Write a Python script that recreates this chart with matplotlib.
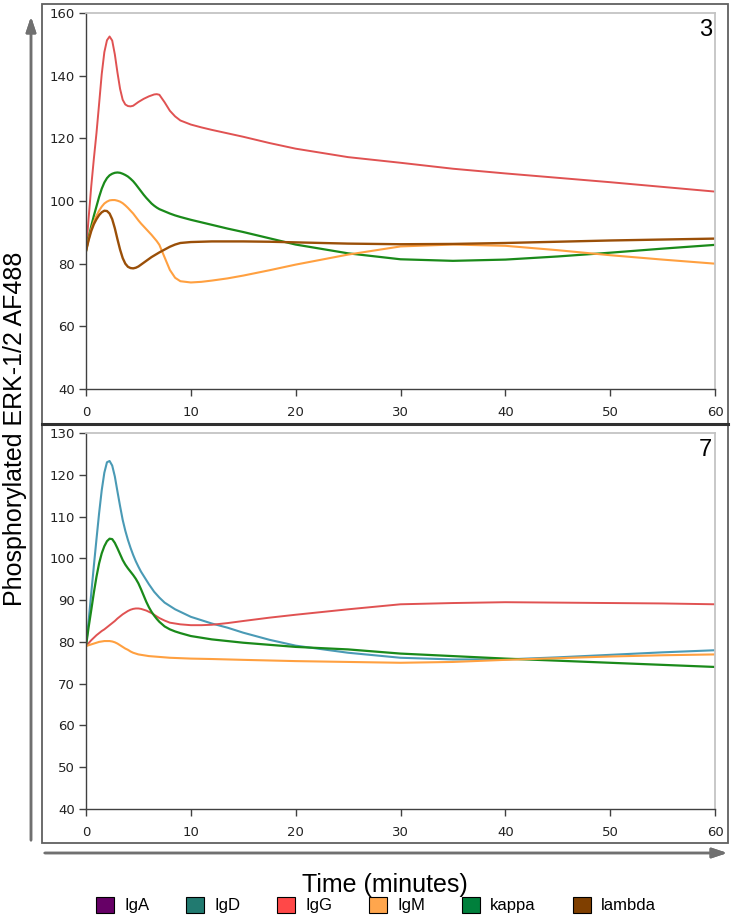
import matplotlib
matplotlib.use("Agg")
import matplotlib.pyplot as plt
from matplotlib.patches import Patch, Rectangle
from matplotlib.lines import Line2D

# sample times (minutes), dense at the start where the curves bend
times = [0, 0.25, 0.5, 0.75, 1, 1.25, 1.5, 1.75, 2, 2.25, 2.5, 2.75, 3, 3.25, 3.5, 3.75,
         4, 4.25, 4.5, 4.75, 5, 5.25, 5.5, 5.75, 6, 6.25, 6.5, 6.75, 7,
         7.5, 8, 8.5, 9, 10, 11, 12, 13.5, 15, 17.5, 20, 25, 30, 35, 40, 45, 50, 55, 60]

# panel 3
igg_3 = [84, 94.5, 104.7, 113.5, 121.7, 131, 140.5, 147.5, 151.3, 152.5, 151.2, 146.8, 141,
         135.8, 132.3, 130.8, 130.3, 130.2, 130.4, 131, 131.6, 132.1, 132.6, 133.0, 133.4,
         133.7, 134.0, 134.1, 133.9,
         131.5, 128.8, 127.0, 125.7, 124.4, 123.5, 122.7, 121.6, 120.5, 118.5, 116.7, 114.0,
         112.2, 110.3, 108.8, 107.4, 106.0, 104.5, 103]
kappa_3 = [84, 88.3, 92, 95.3, 98.3, 101.3, 103.9, 105.9, 107.3, 108.2, 108.7, 109.0, 109.1,
           109.0, 108.7, 108.3, 107.8, 107.1, 106.3, 105.3, 104.2, 103.1, 102.0, 101.0, 100.1,
           99.2, 98.5, 97.9, 97.4,
           96.7, 96.0, 95.4, 94.9, 94.0, 93.2, 92.4, 91.2, 90.1, 88.1, 86.1, 83.3,
           81.4, 80.9, 81.3, 82.3, 83.5, 84.8, 86]
igm_3 = [84, 87.8, 91, 93.4, 95.3, 96.9, 98.2, 99.2, 99.8, 100.2, 100.3, 100.3, 100.1,
         99.8, 99.3, 98.6, 97.8, 96.9, 96.0, 94.9, 93.8, 92.8, 91.9, 91.0, 90.1,
         89.2, 88.2, 87.2, 86.0,
         82.0, 78.0, 75.5, 74.4, 74.0, 74.2, 74.6, 75.3, 76.2, 77.9, 79.7, 82.9,
         85.5, 86.1, 85.7, 84.3, 82.7, 81.3, 80]
lambda_3 = [84, 87.5, 90.4, 92.6, 94.2, 95.5, 96.4, 96.9, 96.8, 96.0, 94.2, 91.3, 87.8,
            84.5, 81.8, 80.0, 79.0, 78.6, 78.5, 78.7, 79.1, 79.7, 80.3, 80.9, 81.5,
            82.1, 82.6, 83.1, 83.6,
            84.5, 85.4, 86.1, 86.6, 86.9, 87.0, 87.1, 87.1, 87.1, 87.0, 86.8, 86.4,
            86.2, 86.3, 86.6, 87.0, 87.4, 87.7, 88]

# panel 7
igd_7 = [79, 85, 91.6, 98.2, 104.6, 110.8, 116.3, 120.5, 123, 123.3, 122.2, 119.6, 116,
         112.5, 109.2, 106.6, 104.4, 102.5, 100.8, 99.3, 98.0, 96.8, 95.8, 94.8, 93.8,
         92.9, 92.0, 91.3, 90.6,
         89.4, 88.6, 87.8, 87.2, 86.0, 85.2, 84.4, 83.4, 82.2, 80.5, 79.1, 77.4,
         76.2, 75.8, 75.8, 76.3, 76.9, 77.5, 78]
kappa_7 = [79, 83.5, 87.6, 91.8, 95.6, 98.8, 101.2, 102.9, 104.1, 104.7, 104.6, 103.7, 102.4,
           101.0, 99.6, 98.5, 97.6, 96.8, 96.0, 95.1, 94.0, 92.6, 91.1, 89.6, 88.3,
           87.2, 86.3, 85.5, 84.8,
           83.7, 83.0, 82.5, 82.1, 81.4, 81.0, 80.6, 80.2, 79.8, 79.3, 78.8, 78.2,
           77.2, 76.6, 76.0, 75.5, 75.0, 74.5, 74]
igg_7 = [79, 79.7, 80.4, 81.0, 81.6, 82.1, 82.6, 83.0, 83.5, 84.0, 84.5, 85.0, 85.6,
         86.1, 86.6, 87.0, 87.4, 87.7, 87.9, 88.0, 88.0, 87.9, 87.7, 87.5, 87.2,
         86.9, 86.5, 86.1, 85.7,
         85.1, 84.6, 84.4, 84.2, 84.0, 84.0, 84.1, 84.5, 85.0, 85.8, 86.5, 87.8,
         89.0, 89.3, 89.5, 89.4, 89.3, 89.2, 89.0]
igm_7 = [79, 79.2, 79.4, 79.6, 79.8, 80.0, 80.1, 80.2, 80.2, 80.2, 80.1, 79.9, 79.6,
         79.2, 78.8, 78.4, 78.1, 77.7, 77.4, 77.2, 77.0, 76.9, 76.8, 76.7, 76.6,
         76.55, 76.5, 76.45, 76.4,
         76.3, 76.2, 76.15, 76.1, 76.0, 75.95, 75.9, 75.8, 75.7, 75.55, 75.4, 75.2,
         75.0, 75.2, 75.7, 76.1, 76.5, 76.8, 77]

legend_names = ["IgA", "IgD", "IgG", "IgM", "kappa", "lambda"]
legend_colors = ["#660066", "#217a70", "#ff4848", "#ffa64d", "#00803c", "#7f3f00"]

line_col = {"IgD": "#4a9ab5", "IgG": "#e05252", "IgM": "#ffa040",
            "kappa": "#1a8a1a", "lambda": "#9a4f08"}

W, H = 735, 919
fig = plt.figure(figsize=(W / 100, H / 100), dpi=100)


def fx(px):
    return px / W


def fy(py):
    return 1 - py / H


def style_axes(ax, ymin, ymax, step, label):
    ax.set_xlim(0, 60)
    ax.set_ylim(ymin, ymax)
    ax.set_xticks(range(0, 61, 10))
    ax.set_yticks(range(ymin, ymax + 1, step))
    for s in ["left", "bottom"]:
        ax.spines[s].set_color("#404040")
        ax.spines[s].set_linewidth(1.0)
    for s in ["top", "right"]:
        ax.spines[s].set_color("#c4c4c4")
        ax.spines[s].set_linewidth(1.3)
    ax.tick_params(axis="both", direction="out", length=5, width=1, color="#404040",
                   labelsize=9.5, labelcolor="#222222")
    ax.tick_params(axis="x", pad=7)
    ax.tick_params(axis="y", pad=3)
    ax.text(0.996, 0.985, label, transform=ax.transAxes, ha="right", va="top",
            fontsize=17, family="Liberation Sans")


ax1 = fig.add_axes([fx(86), fy(389), fx(715 - 86), (389 - 13) / H])
ax1.plot(times, igg_3, color=line_col["IgG"], lw=1.4)
ax1.plot(times, kappa_3, color=line_col["kappa"], lw=1.6)
ax1.plot(times, igm_3, color=line_col["IgM"], lw=1.5)
ax1.plot(times, lambda_3, color=line_col["lambda"], lw=1.7)
style_axes(ax1, 40, 160, 20, "3")

ax2 = fig.add_axes([fx(86), fy(809), fx(715 - 86), (809 - 433) / H])
ax2.plot(times, igd_7, color=line_col["IgD"], lw=1.5)
ax2.plot(times, igg_7, color=line_col["IgG"], lw=1.4)
ax2.plot(times, kappa_7, color=line_col["kappa"], lw=1.6)
ax2.plot(times, igm_7, color=line_col["IgM"], lw=1.5)
style_axes(ax2, 40, 130, 10, "7")

# outer panel boxes
fig.add_artist(Rectangle((fx(42), fy(424)), fx(728 - 42), (424 - 4) / H, fill=False,
                         edgecolor="#606060", lw=1.3, transform=fig.transFigure))
fig.add_artist(Rectangle((fx(42), fy(843)), fx(728 - 42), (843 - 424) / H, fill=False,
                         edgecolor="#606060", lw=1.3, transform=fig.transFigure))
fig.add_artist(Line2D([fx(42), fx(728)], [fy(424), fy(424)], color="#303030", lw=2.2,
                      transform=fig.transFigure))

# axis arrows
arrow = dict(arrowstyle="-|>,head_length=0.9,head_width=0.3", color="#707070", lw=1.8)
fig.add_artist(plt.annotate("", xy=(fx(31), fy(14)), xytext=(fx(31), fy(843)),
                            xycoords="figure fraction", textcoords="figure fraction",
                            arrowprops=arrow))
fig.add_artist(plt.annotate("", xy=(fx(730), fy(853)), xytext=(fx(42), fy(853)),
                            xycoords="figure fraction", textcoords="figure fraction",
                            arrowprops=arrow))

fig.text(fx(15), fy(429), "Phosphorylated ERK-1/2 AF488", rotation=90, ha="center",
         va="center", fontsize=18, family="Liberation Sans")
fig.text(fx(385), fy(885), "Time (minutes)", ha="center", va="center",
         fontsize=18, family="Liberation Sans")

handles = [Patch(facecolor=c, edgecolor="black", lw=0.8) for c in legend_colors]
fig.legend(handles, legend_names, loc="center", bbox_to_anchor=(fx(376), fy(905)),
           ncol=6, frameon=False, handlelength=1.1, handleheight=1.1, handletextpad=0.6,
           columnspacing=2.2, prop={"family": "Liberation Sans", "size": 12})

plt.savefig("out.png", dpi=100)
plt.close()
